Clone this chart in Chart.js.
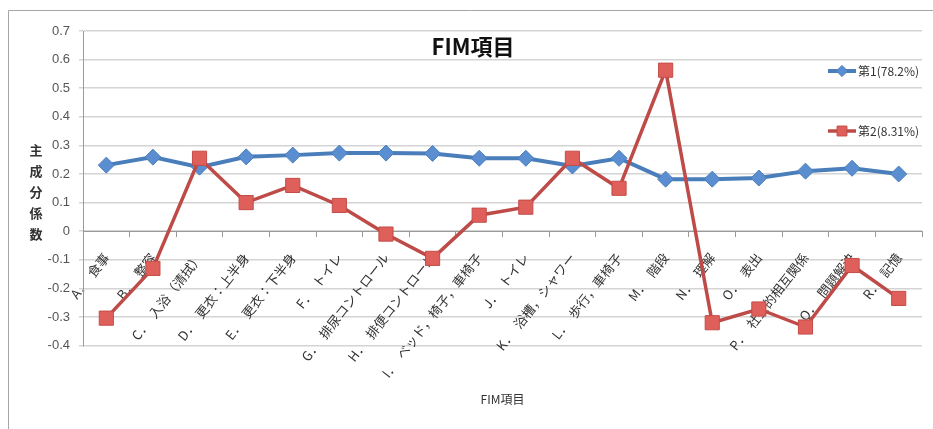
<!DOCTYPE html>
<html>
<head>
<meta charset="utf-8">
<script src="https://cdn.jsdelivr.net/npm/chart.js@4"></script>
<style>
  html, body { margin: 0; padding: 0; background: #fff; }
  #wrap { width: 933px; height: 429px; }
</style>
</head>
<body>
<div id="wrap"><canvas id="fim"></canvas></div>
<script>
let categories = ['A．　食事', 'B．　整容', 'C．　入浴（清拭）', 'D．　更衣：上半身', 'E．　更衣：下半身',
    'F．　トイレ', 'G．　排尿コントロール', 'H．　排便コントロール', 'I．　ベッド，椅子，車椅子',
    'J．　トイレ', 'K．　浴槽，シャワー', 'L．　歩行，車椅子', 'M．　階段', 'N．　理解', 'O．　表出',
    'P．　社会的相互関係', 'Q．　問題解決', 'R．　記憶']

let seriesNames = ['第1(78.2%)', '第2(8.31%)']

let first = [0.231, 0.259, 0.224, 0.260, 0.266, 0.273, 0.273, 0.272, 0.255,
    0.255, 0.228, 0.255, 0.182, 0.182, 0.186, 0.210, 0.220, 0.200]

let second = [-0.304, -0.130, 0.255, 0.100, 0.160, 0.090, -0.010, -0.095, 0.056,
    0.084, 0.255, 0.150, 0.563, -0.320, -0.272, -0.335, -0.120, -0.235]

let yTicks = [-0.4, -0.3, -0.2, -0.1, 0, 0.1, 0.2, 0.3, 0.4, 0.5, 0.6, 0.7]

let blue = '#4a7ebb'
let red = '#be4b48'
let cjk = '"Noto Sans CJK JP", "Noto Sans", sans-serif'

// frame, overlaid title, stacked y title and the legend on the right
const decorations = {
    id: 'decorations',
    beforeDraw(chart) {
        const ctx = chart.ctx;
        ctx.save();
        ctx.strokeStyle = '#a5a5a5';
        ctx.lineWidth = 1;
        ctx.beginPath();
        ctx.moveTo(8.5, chart.height);
        ctx.lineTo(8.5, 10.5);
        ctx.lineTo(chart.width, 10.5);
        ctx.stroke();
        ctx.restore();
    },
    afterDraw(chart) {
        const ctx = chart.ctx;
        ctx.save();
        ctx.fillStyle = '#111';
        ctx.font = 'bold 22px ' + cjk;
        ctx.textAlign = 'center';
        ctx.textBaseline = 'middle';
        ctx.fillText('FIM項目', 473, 47);

        ctx.fillStyle = '#333';
        ctx.font = 'bold 13px ' + cjk;
        const yTitle = '主成分係数';
        for (let i = 0; i < yTitle.length; i++) {
            ctx.fillText(yTitle[i], 36, 150 + i * 21);
        }

        ctx.font = '12px ' + cjk;
        ctx.textAlign = 'left';
        chart.data.datasets.forEach(function (ds, i) {
            const y = i == 0 ? 71 : 131;
            ctx.strokeStyle = ds.borderColor;
            ctx.lineWidth = ds.borderWidth;
            ctx.beginPath();
            ctx.moveTo(828, y);
            ctx.lineTo(856, y);
            ctx.stroke();
            ctx.fillStyle = ds.pointBackgroundColor;
            ctx.strokeStyle = ds.pointBorderColor;
            ctx.lineWidth = 1;
            Chart.helpers.drawPoint(ctx, {
                pointStyle: ds.pointStyle,
                radius: ds.pointRadius * 0.7,
                borderWidth: 1
            }, 842, y);
            ctx.fillStyle = '#333';
            ctx.fillText(ds.label, 858, y);
        });
        ctx.restore();
    }
};

const canvas = document.getElementById('fim');
const ctx = canvas.getContext('2d');
const myChart = new Chart(ctx, {
    type: 'line',
    data: {
        labels: categories,
        datasets: [{
            label: seriesNames[0],
            data: first,
            borderColor: blue,
            borderWidth: 4,
            pointStyle: 'rectRot',
            pointRadius: 8,
            pointBackgroundColor: '#5a8ed0',
            pointBorderColor: '#4a7ebb',
            pointBorderWidth: 1,
            tension: 0,
            order: 2
        }, {
            label: seriesNames[1],
            data: second,
            borderColor: red,
            borderWidth: 3.5,
            pointStyle: 'rect',
            pointRadius: 10,
            pointBackgroundColor: '#df5f5b',
            pointBorderColor: '#c44c48',
            pointBorderWidth: 1,
            tension: 0,
            order: 1
        }]
    },
    options: {
        responsive: true,
        maintainAspectRatio: false,
        animation: false,
        layout: {
            padding: { left: 0, right: 4, top: 31, bottom: 20 }
        },
        plugins: {
            legend: { display: false },
            tooltip: { enabled: false },
            title: { display: false },
            subtitle: {
                display: true,
                position: 'bottom',
                fullSize: false,
                text: 'FIM項目',
                color: '#333',
                font: { family: cjk, size: 12 },
                padding: { top: 47, bottom: 2 }
            }
        },
        scales: {
            x: {
                position: { y: 0 },
                offset: true,
                grid: {
                    offset: true,
                    drawOnChartArea: false,
                    drawTicks: true,
                    tickLength: 5,
                    color: '#9a9a9a'
                },
                border: { display: true, color: '#9a9a9a', width: 1 },
                ticks: {
                    autoSkip: false,
                    minRotation: 52,
                    maxRotation: 52,
                    padding: 14,
                    color: '#333',
                    font: { family: cjk, size: 13 }
                }
            },
            y: {
                min: -0.4,
                max: 0.7,
                afterFit: function (axis) { axis.width = 83; },
                afterBuildTicks: function (axis) {
                    axis.ticks = yTicks.map(function (v) { return { value: v }; });
                },
                grid: {
                    color: '#d4d4d4',
                    lineWidth: 1.5,
                    tickLength: 4
                },
                border: { display: true, color: '#9a9a9a', width: 1 },
                ticks: {
                    padding: 9,
                    color: '#555',
                    font: { family: '"Liberation Sans Narrow", "Liberation Sans", sans-serif', size: 13 },
                    callback: function (v) {
                        const r = Math.round(v * 10) / 10;
                        return r == 0 ? '0' : r.toFixed(1);
                    }
                }
            }
        }
    },
    plugins: [decorations]
});
</script>
</body>
</html>
